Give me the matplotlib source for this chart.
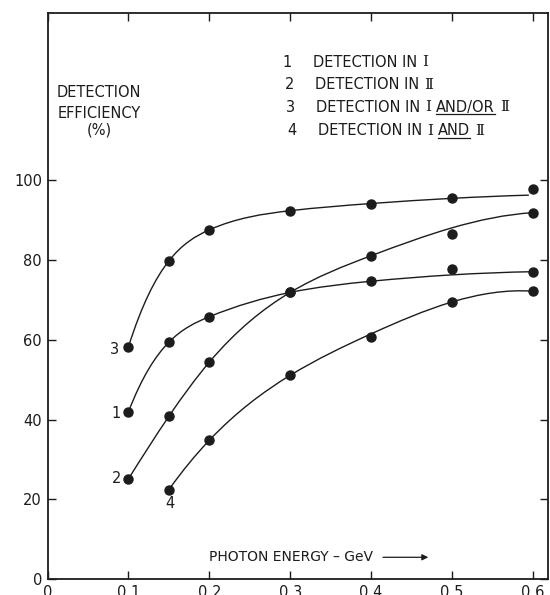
import matplotlib
matplotlib.use("Agg")
import matplotlib.pyplot as plt
import numpy as np
from matplotlib.path import Path
from matplotlib.patches import PathPatch

energy = [0.1, 0.15, 0.2, 0.3, 0.4, 0.5, 0.6]
eff_1 = [41.9, 59.4, 65.8, 71.9, 74.7, 77.7, 77.1]
eff_2 = [25.1, 40.8, 54.4, 71.9, 81.1, 86.5, 91.9]
eff_3 = [58.2, 79.8, 87.6, 92.4, 94.2, 95.5, 97.9]
energy_4 = [0.15, 0.2, 0.3, 0.4, 0.5, 0.6]
eff_4 = [22.4, 34.8, 51.1, 60.6, 69.5, 72.2]

# where the hand-drawn curves run
curve_x = [0.1, 0.15, 0.2, 0.3, 0.4, 0.5, 0.6]
curve_1 = [41.9, 59.4, 65.8, 71.9, 74.7, 76.3, 77.1]
curve_2 = [25.1, 40.8, 54.4, 71.9, 81.1, 88.1, 91.9]
curve_3x = [0.1, 0.15, 0.2, 0.3, 0.4, 0.5, 0.595]
curve_3 = [58.2, 79.8, 87.6, 92.4, 94.2, 95.5, 96.3]
curve_4x = [0.15, 0.2, 0.3, 0.4, 0.5, 0.6]
curve_4 = [22.4, 34.8, 51.1, 61.5, 69.5, 72.2]

x_ticks = [0, 0.1, 0.2, 0.3, 0.4, 0.5, 0.6]
x_labels = ["0", "0.1", "0.2", "0.3", "0.4", "0.5", "0.6"]
y_ticks = [0, 20, 40, 60, 80, 100]

# legend lines: (number, [(text, underlined, roman numeral)])
legend_rows = [
    ("1", [("DETECTION IN", False, False), ("I", False, True)]),
    ("2", [("DETECTION IN", False, False), ("\u2161", False, True)]),
    ("3", [("DETECTION IN", False, False), ("I", False, True),
           ("AND/OR", True, False), ("\u2161", False, True)]),
    ("4", [("DETECTION IN", False, False), ("I", False, True),
           ("AND", True, False), ("\u2161", False, True)]),
]

INK = "#1c1c1c"
FS = 10.5


def spline_path(x, y):
    """Not-a-knot cubic spline through the nodes, as a bezier Path."""
    x = np.asarray(x, float)
    y = np.asarray(y, float)
    n = len(x)
    h = np.diff(x)
    d = np.diff(y) / h
    A = np.zeros((n, n))
    b = np.zeros(n)
    for i in range(1, n - 1):
        A[i, i - 1] = h[i]
        A[i, i] = 2 * (h[i - 1] + h[i])
        A[i, i + 1] = h[i - 1]
        b[i] = 3 * (h[i] * d[i - 1] + h[i - 1] * d[i])
    s = x[2] - x[0]
    A[0, 0] = h[1]
    A[0, 1] = s
    b[0] = ((h[0] + 2 * s) * h[1] * d[0] + h[0] ** 2 * d[1]) / s
    s = x[-1] - x[-3]
    A[-1, -2] = s
    A[-1, -1] = h[-2]
    b[-1] = (h[-1] ** 2 * d[-2] + (2 * s + h[-1]) * h[-2] * d[-1]) / s
    m = np.linalg.solve(A, b)
    verts = [(x[0], y[0])]
    codes = [Path.MOVETO]
    for i in range(n - 1):
        verts += [(x[i] + h[i] / 3, y[i] + m[i] * h[i] / 3),
                  (x[i + 1] - h[i] / 3, y[i + 1] - m[i + 1] * h[i] / 3),
                  (x[i + 1], y[i + 1])]
        codes += [Path.CURVE4] * 3
    return Path(verts, codes)


fig = plt.figure(figsize=(5.5, 5.95), dpi=100)
ax = fig.add_axes([47.5 / 550, 16 / 595, 500.5 / 550, 566 / 595])
ax.set_xlim(0, 0.6187)
ax.set_ylim(0, 142)

for cx, cy in [(curve_x, curve_1), (curve_x, curve_2),
               (curve_3x, curve_3), (curve_4x, curve_4)]:
    ax.add_patch(PathPatch(spline_path(cx, cy), fc="none", ec=INK, lw=1.0))

for ex, ey in [(energy, eff_1), (energy, eff_2), (energy, eff_3),
               (energy_4, eff_4)]:
    ax.plot(ex, ey, "o", color=INK, ms=6.5, mec=INK)

# curve numbers
ax.text(0.0827, 57.7, "3", fontsize=FS, color=INK, ha="center", va="center")
ax.text(0.085, 41.6, "1", fontsize=FS, color=INK, ha="center", va="center")
ax.text(0.085, 25.1, "2", fontsize=FS, color=INK, ha="center", va="center")
ax.text(0.151, 18.9, "4", fontsize=FS, color=INK, ha="center", va="center")

# y label block
for txt, yy in [("DETECTION", 121.96), ("EFFICIENCY", 116.9), ("(%)", 112.7)]:
    ax.text(0.064, yy, txt, fontsize=FS, color=INK, ha="center", va="center")

# legend written as text
renderer = fig.canvas.get_renderer()
inv = ax.transData.inverted()
row_y = [129.6, 124.0, 118.4, 112.4]
num_x = [0.2957, 0.2998, 0.2998, 0.3022]
text_x = [0.3282, 0.3307, 0.3315, 0.3343]
for (num, pieces), yy, nx, tx in zip(legend_rows, row_y, num_x, text_x):
    ax.text(nx, yy, num, fontsize=FS, color=INK, ha="center", va="center")
    xpos = tx
    for txt, under, roman in pieces:
        fam = "DejaVu Serif" if roman else "DejaVu Sans"
        t = ax.text(xpos, yy, txt, fontsize=FS + 0.5 if roman else FS,
                    family=fam, color=INK, ha="left", va="center")
        bb = t.get_window_extent(renderer=renderer)
        if under:
            (x0, y0), (x1, _) = inv.transform([(bb.x0, bb.y0 + 0.5), (bb.x1, bb.y0)])
            ax.plot([x0, x1], [y0, y0], color=INK, lw=0.9)
        xpos = inv.transform((bb.x1 + 5, bb.y0))[0]

# x axis label with arrow
ax.text(0.2, 5.45, "PHOTON ENERGY \u2013 GeV", fontsize=10, color=INK,
        ha="left", va="center")
ax.annotate("", xy=(0.4707, 5.45), xytext=(0.4147, 5.45),
            arrowprops=dict(arrowstyle="-|>", color=INK, lw=0.9,
                            mutation_scale=9, shrinkA=0, shrinkB=0))

ax.set_xticks(x_ticks)
ax.set_xticklabels(x_labels)
ax.set_yticks(y_ticks)
ax.tick_params(direction="in", length=6, width=1, top=True, right=True,
               colors=INK, labelsize=FS)
ax.tick_params(axis="x", pad=4.5)
ax.tick_params(axis="y", pad=4)
for s in ax.spines.values():
    s.set_linewidth(1.3)
    s.set_color(INK)

fig.savefig("out.png", dpi=100)
